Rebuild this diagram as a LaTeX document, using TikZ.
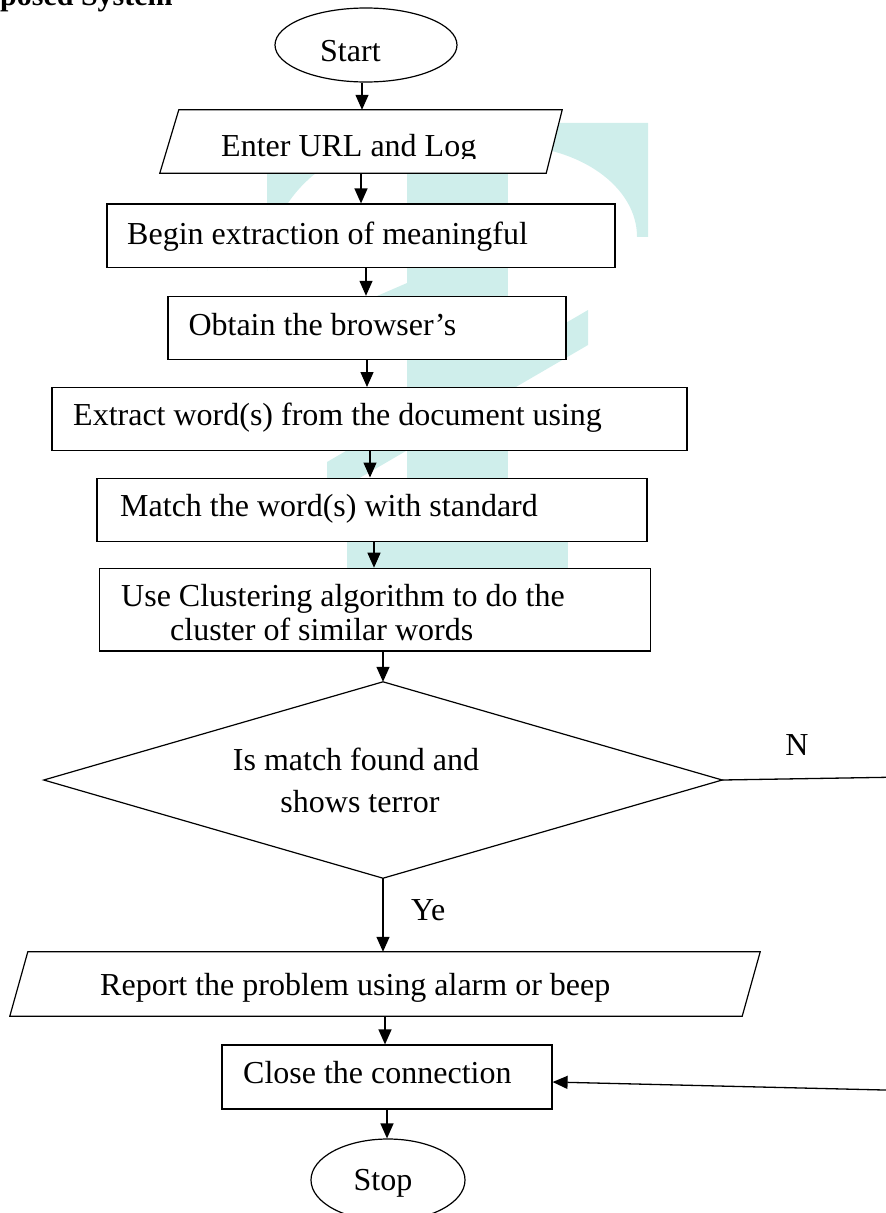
\documentclass[tikz,border=0pt]{standalone}
\usepackage{fontspec}
\setmainfont{Liberation Serif}
\usetikzlibrary{arrows.meta,shapes.geometric}
\definecolor{wm}{RGB}{207,238,235}
\begin{document}
\begin{tikzpicture}[x=1pt,y=-1pt,
  font=\fontsize{32}{38}\selectfont,
  box/.style={draw, line width=1.2pt, fill=white, inner sep=0pt},
  ghost/.style={draw=none, inner sep=0pt},
  shp/.style={draw, line width=1.2pt, fill=white},
  txt/.style={inner sep=0pt, anchor=base west},
  ctxt/.style={inner sep=0pt, anchor=base},
  arr/.style={line width=1.3pt, -{Triangle[length=15pt,width=13pt]}},
  ln/.style={line width=1.3pt}]
\useasboundingbox (0,0) rectangle (886,1213);
% watermark
\fill[wm] (267,122.8) -- (407,122.8) -- (407,142) .. controls (329.7,142) and (267,199.8) .. (267,271) -- cycle;
\fill[wm] (508,122.8) -- (648,122.8) -- (648,236.8) -- (637,236.8) .. controls (637,186.5) and (579.2,145.6) .. (508,145.6) -- cycle;
\fill[wm] (407,122.8) rectangle (508,545);
\fill[wm] (377,296) -- (407,283) -- (407,330) -- (377,330) -- cycle;
\fill[wm] (327,462) -- (588,310) -- (588,345) -- (327,497) -- cycle;
\fill[wm] (347,530) rectangle (568,600);
% title
\node[txt, font=\fontsize{30}{36}\selectfont\bfseries] (title) at (0,5) {posed System};
% start
\node[ellipse, draw, line width=1.2pt, fill=white, minimum width=182pt, minimum height=74pt, inner sep=0pt] (start) at (366,45) {};
\node[txt] (tStart) at (320,61.7) {Start};
% enter URL
\node[ghost, minimum width=402pt, minimum height=63pt] (enter) at (361,141.5) {};
\filldraw[shp] ([xshift=19pt]enter.north west) -- (enter.north east) -- ([xshift=-16pt]enter.south east) -- (enter.south west) -- cycle;
\begin{scope}
\clip (150,100) rectangle (600,158.5);
\node[txt] (tEnter) at (221,156.7) {Enter URL and Log};
\end{scope}
% boxes
\node[box, minimum width=508pt, minimum height=63.5pt] (begin) at (361,235.75) {};
\node[txt] (tBegin) at (127,244) {Begin extraction of meaningful};
\node[box, minimum width=398pt, minimum height=63.2pt] (obtain) at (367,328) {};
\node[txt] (tObtain) at (188.3,335) {Obtain the browser’s};
\node[box, minimum width=635pt, minimum height=63.2pt] (extract) at (369.5,419.2) {};
\node[txt] (tExtract) at (73,425) {Extract word(s) from the document using};
\node[box, minimum width=550pt, minimum height=63.1pt] (match) at (372,509.65) {};
\node[txt] (tMatch) at (120,516.7) {Match the word(s) with standard};
\node[box, minimum width=551pt, minimum height=82.7pt] (cluster) at (375,609.65) {};
\node[txt] (tUse) at (121,606.7) {Use Clustering algorithm to do the};
\begin{scope}
\clip (100,615) rectangle (650,642);
\node[txt] (tCluster) at (170,640) {cluster of similar words};
\end{scope}
% decision
\node[ghost, minimum width=678pt, minimum height=196pt] (dia) at (383,780) {};
\filldraw[shp] (dia.north) -- (dia.east) -- (dia.south) -- (dia.west) -- cycle;
\node[ctxt] (tDia1) at (356,770) {Is match found and};
\node[ctxt] (tDia2) at (360,812) {shows terror};
\node[ctxt] (tN) at (797,755) {N};
\node[txt] (tYe) at (411,920) {Ye};
% report
\node[ghost, minimum width=750pt, minimum height=64pt] (report) at (385,984) {};
\filldraw[shp] ([xshift=18pt]report.north west) -- (report.north east) -- ([xshift=-18pt]report.south east) -- (report.south west) -- cycle;
\node[txt] (tReport) at (100,995) {Report the problem using alarm or beep};
% close
\node[box, minimum width=330pt, minimum height=64pt] (close) at (387,1077) {};
\node[txt] (tClose) at (243,1083) {Close the connection};
% stop
\node[ellipse, draw, line width=1.2pt, fill=white, minimum width=154pt, minimum height=82pt, inner sep=0pt] (stop) at (388,1180) {};
\node[ctxt] (tStop) at (383,1190) {Stop};
% connectors
\draw[arr] (362,0 |- start.south) -- (362,0 |- enter.north);
\draw[arr] (361,0 |- enter.south) -- (361,0 |- begin.north);
\draw[arr] (366,0 |- begin.south) -- (366,0 |- obtain.north);
\draw[arr] (367,0 |- obtain.south) -- (367,0 |- extract.north);
\draw[arr] (370,0 |- extract.south) -- (370,0 |- match.north);
\draw[arr] (374,0 |- match.south) -- (374,0 |- cluster.north);
\draw[arr] (383,0 |- cluster.south) -- (dia.north);
\draw[arr] (dia.south) -- (383,0 |- report.north);
\draw[arr] (385,0 |- report.south) -- (385,0 |- close.north);
\draw[arr] (387,0 |- close.south) -- (387,0 |- stop.north);
\coordinate (nA) at (905,777);
\coordinate (nB) at (905,1090.5);
\draw[ln, -{Triangle[length=15pt,width=13pt]}] (dia.east) -- (nA) -- (nB) -- ([yshift=-5pt]close.east);
\end{tikzpicture}
\end{document}
